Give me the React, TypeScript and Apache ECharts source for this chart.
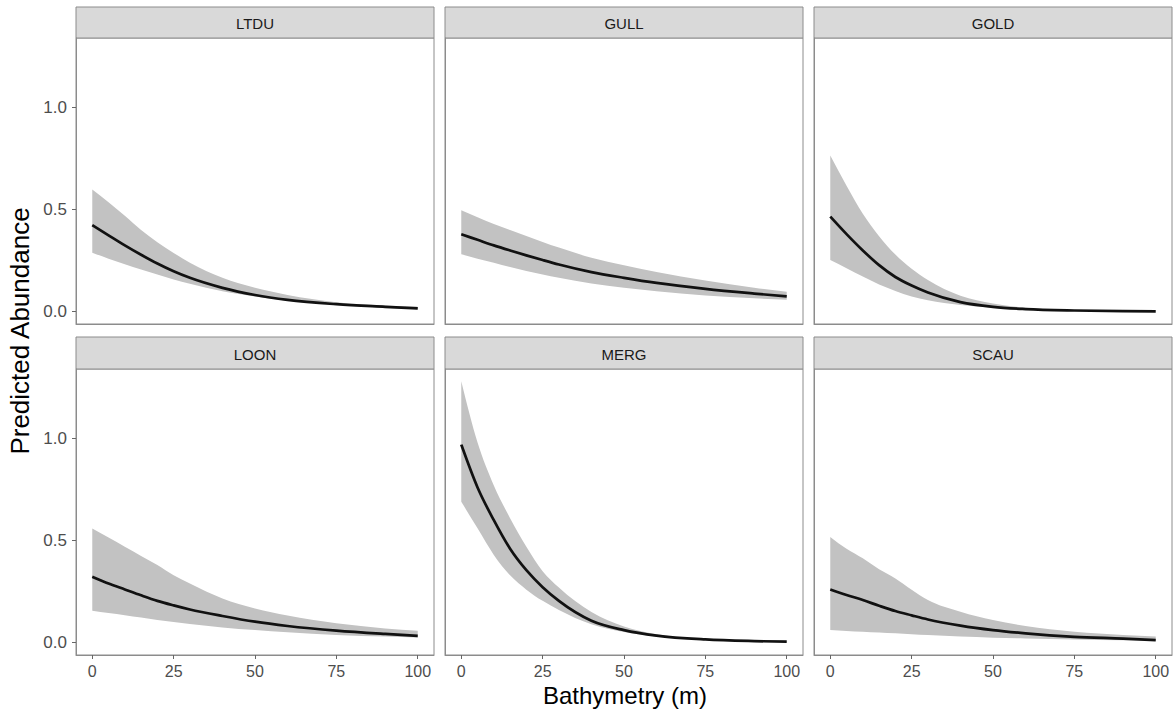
import React, { useEffect, useRef } from "react";
import * as echarts from "echarts";

// Facet names, in panel order (row-major)
const species = ["LTDU", "GULL", "GOLD", "LOON", "MERG", "SCAU"];

// Bathymetry sample positions (m)
const depth = [0, 5, 10, 15, 20, 25, 30, 40, 50, 60, 75, 90, 100];

// Predicted abundance (mean) per species
const meanLTDU = [0.424, 0.374, 0.325, 0.279, 0.236, 0.198, 0.166, 0.117, 0.082, 0.058, 0.037, 0.024, 0.016];
const meanGULL = [0.379, 0.352, 0.325, 0.3, 0.276, 0.253, 0.231, 0.194, 0.166, 0.141, 0.112, 0.089, 0.075];
const meanGOLD = [0.466, 0.38, 0.3, 0.228, 0.17, 0.128, 0.094, 0.047, 0.024, 0.013, 0.006, 0.003, 0.002];
const meanLOON = [0.323, 0.29, 0.261, 0.232, 0.205, 0.183, 0.163, 0.131, 0.103, 0.082, 0.059, 0.043, 0.034];
const meanMERG = [0.97, 0.76, 0.6, 0.46, 0.355, 0.272, 0.205, 0.108, 0.062, 0.035, 0.016, 0.008, 0.005];
const meanSCAU = [0.261, 0.234, 0.209, 0.181, 0.155, 0.134, 0.114, 0.084, 0.062, 0.046, 0.029, 0.02, 0.013];

// Upper confidence bound
const upperLTDU = [0.598, 0.536, 0.47, 0.4, 0.34, 0.288, 0.24, 0.166, 0.117, 0.082, 0.047, 0.031, 0.024];
const upperGULL = [0.497, 0.462, 0.429, 0.4, 0.371, 0.342, 0.314, 0.264, 0.227, 0.194, 0.153, 0.118, 0.098];
const upperGOLD = [0.765, 0.617, 0.48, 0.37, 0.28, 0.21, 0.155, 0.078, 0.04, 0.02, 0.009, 0.004, 0.003];
const upperLOON = [0.559, 0.515, 0.47, 0.425, 0.38, 0.33, 0.29, 0.217, 0.168, 0.133, 0.095, 0.07, 0.059];
const upperMERG = [1.28, 0.98, 0.77, 0.61, 0.47, 0.35, 0.27, 0.15, 0.08, 0.042, 0.018, 0.009, 0.006];
const upperSCAU = [0.518, 0.46, 0.413, 0.36, 0.315, 0.26, 0.209, 0.152, 0.111, 0.082, 0.054, 0.038, 0.03];

// Lower confidence bound
const lowerLTDU = [0.289, 0.26, 0.233, 0.207, 0.182, 0.158, 0.137, 0.1, 0.075, 0.054, 0.034, 0.019, 0.012];
const lowerGULL = [0.281, 0.26, 0.24, 0.219, 0.199, 0.182, 0.166, 0.138, 0.117, 0.1, 0.079, 0.066, 0.059];
const lowerGOLD = [0.253, 0.213, 0.172, 0.133, 0.102, 0.075, 0.056, 0.033, 0.02, 0.011, 0.005, 0.002, 0.001];
const lowerLOON = [0.156, 0.145, 0.135, 0.123, 0.111, 0.101, 0.092, 0.075, 0.062, 0.051, 0.038, 0.03, 0.026];
const lowerMERG = [0.69, 0.56, 0.43, 0.33, 0.26, 0.205, 0.16, 0.09, 0.052, 0.03, 0.013, 0.006, 0.004];
const lowerSCAU = [0.062, 0.058, 0.054, 0.05, 0.046, 0.042, 0.038, 0.03, 0.025, 0.021, 0.016, 0.012, 0.009];

const means = [meanLTDU, meanGULL, meanGOLD, meanLOON, meanMERG, meanSCAU];
const uppers = [upperLTDU, upperGULL, upperGOLD, upperLOON, upperMERG, upperSCAU];
const lowers = [lowerLTDU, lowerGULL, lowerGOLD, lowerLOON, lowerMERG, lowerSCAU];

// Tick labels
const xTicks = [0, 25, 50, 75, 100];
const yTicks = [0, 0.5, 1.0];

const FONT = '"Liberation Sans", Arial, Helvetica, sans-serif';

type Seg = { p0: number[]; c1: number[]; c2: number[]; p1: number[] };

// Monotone cubic (in pixel space) segments through given points (x increasing)
function monoSegments(pts: number[][]): Seg[] {
  const n = pts.length;
  const h: number[] = [];
  const s: number[] = [];
  for (let i = 0; i < n - 1; i++) {
    h.push(pts[i + 1][0] - pts[i][0]);
    s.push((pts[i + 1][1] - pts[i][1]) / (pts[i + 1][0] - pts[i][0]));
  }
  const m: number[] = new Array(n).fill(0);
  for (let i = 1; i < n - 1; i++) {
    const s0 = s[i - 1];
    const s1 = s[i];
    const p = (s0 * h[i] + s1 * h[i - 1]) / (h[i - 1] + h[i]);
    m[i] = (Math.sign(s0) + Math.sign(s1)) * Math.min(Math.abs(s0), Math.abs(s1), 0.5 * Math.abs(p)) || 0;
  }
  if (n > 2) {
    m[0] = (3 * s[0] - m[1]) / 2;
    m[n - 1] = (3 * s[n - 2] - m[n - 2]) / 2;
  } else {
    m[0] = s[0];
    m[n - 1] = s[0];
  }
  const segs: Seg[] = [];
  for (let i = 0; i < n - 1; i++) {
    const dx = h[i] / 3;
    segs.push({
      p0: pts[i],
      c1: [pts[i][0] + dx, pts[i][1] + m[i] * dx],
      c2: [pts[i + 1][0] - dx, pts[i + 1][1] - m[i + 1] * dx],
      p1: pts[i + 1],
    });
  }
  return segs;
}

const f = (v: number) => v.toFixed(2);

function linePath(pts: number[][]): string {
  const segs = monoSegments(pts);
  let d = `M${f(pts[0][0])} ${f(pts[0][1])}`;
  segs.forEach((sg) => {
    d += ` C${f(sg.c1[0])} ${f(sg.c1[1])} ${f(sg.c2[0])} ${f(sg.c2[1])} ${f(sg.p1[0])} ${f(sg.p1[1])}`;
  });
  return d;
}

function bandPath(up: number[][], lo: number[][]): string {
  let d = linePath(up);
  const segs = monoSegments(lo);
  const last = lo[lo.length - 1];
  d += ` L${f(last[0])} ${f(last[1])}`;
  for (let i = segs.length - 1; i >= 0; i--) {
    const sg = segs[i];
    d += ` C${f(sg.c2[0])} ${f(sg.c2[1])} ${f(sg.c1[0])} ${f(sg.c1[1])} ${f(sg.p0[0])} ${f(sg.p0[1])}`;
  }
  return d + " Z";
}

export default function App() {
  const ref = useRef<HTMLDivElement>(null);

  useEffect(() => {
    if (!ref.current) return;
    const chart = echarts.init(ref.current, null, { renderer: "svg" });

    const colLeft = [76, 445, 814];
    const panelW = 358;
    const rowTop = [38, 369];
    const panelH = 286;
    const border = "#8c8c8c";

    const grids: any[] = [];
    const xAxes: any[] = [];
    const yAxes: any[] = [];
    const series: any[] = [];
    const graphics: any[] = [];

    species.forEach((name, i) => {
      const r = Math.floor(i / 3);
      const c = i % 3;
      grids.push({
        left: colLeft[c],
        top: rowTop[r],
        width: panelW,
        height: panelH,
        show: true,
        borderColor: border,
        borderWidth: 1,
        backgroundColor: "#ffffff",
        containLabel: false,
      });
      const bottomRow = r === 1;
      const leftCol = c === 0;
      xAxes.push({
        type: "value",
        gridIndex: i,
        min: -5,
        max: 105,
        splitLine: { show: false },
        axisLine: { show: true, onZero: false, lineStyle: { color: border, width: 1 } },
        axisTick: {
          show: bottomRow,
          length: 4,
          customValues: xTicks,
          lineStyle: { color: "#666666" },
        },
        axisLabel: {
          show: bottomRow,
          customValues: xTicks,
          fontFamily: FONT,
          fontSize: 16,
          color: "#4d4d4d",
          margin: 8,
        },
      });
      yAxes.push({
        type: "value",
        gridIndex: i,
        min: -0.06,
        max: 1.34,
        splitLine: { show: false },
        axisLine: { show: true, onZero: false, lineStyle: { color: border, width: 1 } },
        axisTick: {
          show: leftCol,
          length: 4,
          customValues: yTicks,
          lineStyle: { color: "#666666" },
        },
        axisLabel: {
          show: leftCol,
          customValues: yTicks,
          formatter: (v: number) => v.toFixed(1),
          fontFamily: FONT,
          fontSize: 17,
          color: "#4d4d4d",
          margin: 9,
        },
      });

      const up = uppers[i];
      const lo = lowers[i];
      const mu = means[i];
      series.push({
        type: "custom",
        name: name,
        coordinateSystem: "cartesian2d",
        xAxisIndex: i,
        yAxisIndex: i,
        clip: true,
        silent: true,
        data: depth.map((d, k) => [d, mu[k], lo[k], up[k]]),
        encode: { x: 0, y: 1 },
        renderItem: (params: any, api: any) => {
          if (params.dataIndex !== 0) return null;
          const upPts = depth.map((d, k) => api.coord([d, up[k]]));
          const loPts = depth.map((d, k) => api.coord([d, lo[k]]));
          const muPts = depth.map((d, k) => api.coord([d, mu[k]]));
          return {
            type: "group",
            children: [
              {
                type: "path",
                shape: { pathData: bandPath(upPts, loPts) },
                style: { fill: "#c2c2c2", stroke: "none" },
              },
              {
                type: "path",
                shape: { pathData: linePath(muPts) },
                style: { fill: "none", stroke: "#111111", lineWidth: 2.7, lineJoin: "round" },
              },
            ],
          };
        },
      });

      // strip header
      const sy = r === 0 ? 7 : 337;
      const sh = rowTop[r] - sy;
      graphics.push({
        type: "rect",
        shape: { x: colLeft[c], y: sy, width: panelW, height: sh },
        style: { fill: "#d9d9d9", stroke: border, lineWidth: 1 },
        silent: true,
      });
      graphics.push({
        type: "text",
        x: colLeft[c] + panelW / 2,
        y: sy + sh / 2 + 1,
        style: {
          text: name,
          fontFamily: FONT,
          fontSize: 15,
          fill: "#1a1a1a",
          align: "center",
          verticalAlign: "middle",
        },
        silent: true,
      });
    });

    graphics.push({
      type: "text",
      x: 625,
      y: 695,
      style: {
        text: "Bathymetry (m)",
        fontFamily: FONT,
        fontSize: 24,
        fill: "#000000",
        align: "center",
        verticalAlign: "middle",
      },
      silent: true,
    });
    graphics.push({
      type: "text",
      x: 20,
      y: 331,
      rotation: Math.PI / 2,
      style: {
        text: "Predicted Abundance",
        fontFamily: FONT,
        fontSize: 26,
        fill: "#000000",
        align: "center",
        verticalAlign: "middle",
      },
      silent: true,
    });

    chart.setOption({
      animation: false,
      backgroundColor: "#ffffff",
      grid: grids,
      xAxis: xAxes,
      yAxis: yAxes,
      series,
      graphic: graphics,
    });

    return () => chart.dispose();
  }, []);

  return (
    <div
      ref={ref}
      style={{ position: "absolute", left: 0, top: 0, width: 1174, height: 713 }}
    />
  );
}
